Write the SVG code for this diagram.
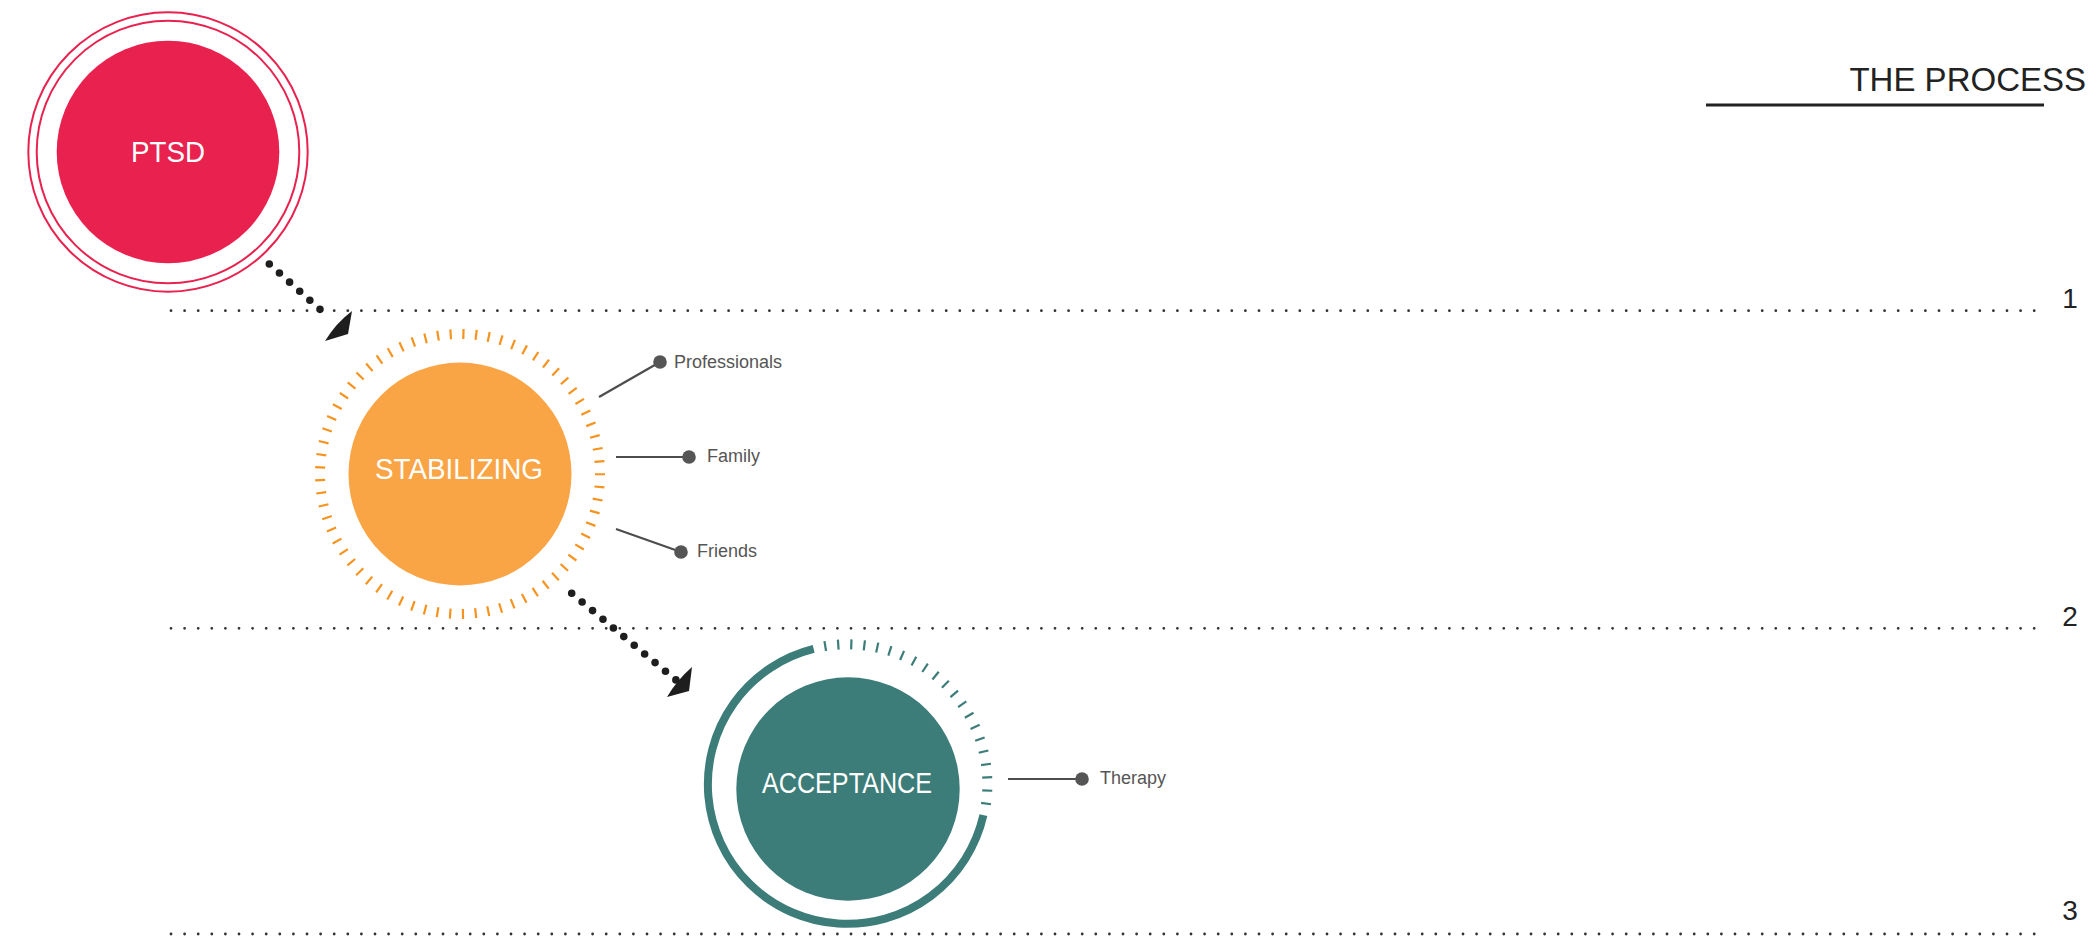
<svg xmlns="http://www.w3.org/2000/svg" xmlns:xlink="http://www.w3.org/1999/xlink" width="2100" height="951" viewBox="0 0 2100 951">
<defs>
<style>
.guide{fill:none;stroke:#333;stroke-width:2.8;stroke-linecap:round;stroke-dasharray:0 13.6}
.num{font-family:"Liberation Sans",Arial,sans-serif;font-size:28px;fill:#222;text-anchor:middle}
.main{font-family:"Liberation Sans",Arial,sans-serif;font-size:30px;fill:#fff;text-anchor:middle}
.lbl{font-family:"Liberation Sans",Arial,sans-serif;font-size:18px;fill:#555}
.branch{stroke:#4d4d4d;stroke-width:2.2;fill:none}
.bdot{fill:#555}
.flow{fill:none;stroke:#1e1e1e;stroke-width:7.6;stroke-linecap:round}
.head{fill:#1e1e1e}
.otk{stroke:#f6931e;stroke-width:2.2}
.gtk{stroke:#3c7c79;stroke-width:2.2}
</style>
<line id="otick" class="otk" x1="0" y1="-135" x2="0" y2="-145"/>
<line id="gtick" class="gtk" x1="0" y1="-135" x2="0" y2="-145"/>
</defs>
<rect width="2100" height="951" fill="#fff"/>

<g id="title">
<text x="2086" y="91" font-family="Liberation Sans, Arial, sans-serif" font-size="33" fill="#222" text-anchor="end">THE PROCESS</text>
<line x1="1706" y1="105" x2="2044" y2="105" stroke="#222" stroke-width="3"/>
</g>

<g id="stages">
<line class="guide" x1="171" y1="310.7" x2="2035" y2="310.7"/>
<line class="guide" x1="171" y1="628.3" x2="2035" y2="628.3"/>
<line class="guide" x1="171" y1="934" x2="2035" y2="934"/>
<text class="num" x="2070" y="308">1</text>
<text class="num" x="2070" y="626">2</text>
<text class="num" x="2070" y="920">3</text>
</g>

<g id="connectors">
<path class="flow" d="M269.3 264 L330 318.3" stroke-dasharray="0 13.6"/>
<path class="head" d="M352 311 Q336 323 325 341 L348 334 Z"/>
<path class="flow" d="M571.7 593.3 L676 680" stroke-dasharray="0 13.55"/>
<path class="head" d="M692 667 Q677 680 667 697 L689 691 Z"/>
<line class="branch" x1="599" y1="397" x2="660" y2="362"/>
<line class="branch" x1="616" y1="457" x2="689" y2="457"/>
<line class="branch" x1="616" y1="529" x2="681" y2="552"/>
<line class="branch" x1="1008" y1="779" x2="1082" y2="779"/>
<circle class="bdot" cx="660" cy="362" r="6.8"/>
<circle class="bdot" cx="689" cy="457" r="6.8"/>
<circle class="bdot" cx="681" cy="552" r="6.8"/>
<circle class="bdot" cx="1082" cy="779" r="6.8"/>
<text class="lbl" x="674" y="368">Professionals</text>
<text class="lbl" x="707" y="462">Family</text>
<text class="lbl" x="697" y="557">Friends</text>
<text class="lbl" x="1100" y="784">Therapy</text>
</g>

<g id="node-ptsd">
<circle cx="168" cy="152" r="139.7" fill="none" stroke="#e9214e" stroke-width="2"/>
<circle cx="168" cy="152" r="131.3" fill="none" stroke="#e9214e" stroke-width="2"/>
<circle cx="168" cy="152" r="111.3" fill="#e9214e"/>
<text class="main" x="168" y="162" textLength="74" lengthAdjust="spacingAndGlyphs">PTSD</text>
</g>

<g id="node-stabilizing">
<g transform="translate(460 474)">
<use xlink:href="#otick" transform="rotate(1.4)"/><use xlink:href="#otick" transform="rotate(6.62)"/><use xlink:href="#otick" transform="rotate(11.83)"/><use xlink:href="#otick" transform="rotate(17.05)"/><use xlink:href="#otick" transform="rotate(22.27)"/><use xlink:href="#otick" transform="rotate(27.49)"/><use xlink:href="#otick" transform="rotate(32.7)"/><use xlink:href="#otick" transform="rotate(37.92)"/><use xlink:href="#otick" transform="rotate(43.14)"/><use xlink:href="#otick" transform="rotate(48.36)"/>
<use xlink:href="#otick" transform="rotate(53.57)"/><use xlink:href="#otick" transform="rotate(58.79)"/><use xlink:href="#otick" transform="rotate(64.01)"/><use xlink:href="#otick" transform="rotate(69.23)"/><use xlink:href="#otick" transform="rotate(74.44)"/><use xlink:href="#otick" transform="rotate(79.66)"/><use xlink:href="#otick" transform="rotate(84.88)"/><use xlink:href="#otick" transform="rotate(90.1)"/><use xlink:href="#otick" transform="rotate(95.31)"/><use xlink:href="#otick" transform="rotate(100.53)"/>
<use xlink:href="#otick" transform="rotate(105.75)"/><use xlink:href="#otick" transform="rotate(110.97)"/><use xlink:href="#otick" transform="rotate(116.18)"/><use xlink:href="#otick" transform="rotate(121.4)"/><use xlink:href="#otick" transform="rotate(126.62)"/><use xlink:href="#otick" transform="rotate(131.84)"/><use xlink:href="#otick" transform="rotate(137.05)"/><use xlink:href="#otick" transform="rotate(142.27)"/><use xlink:href="#otick" transform="rotate(147.49)"/><use xlink:href="#otick" transform="rotate(152.7)"/>
<use xlink:href="#otick" transform="rotate(157.92)"/><use xlink:href="#otick" transform="rotate(163.14)"/><use xlink:href="#otick" transform="rotate(168.36)"/><use xlink:href="#otick" transform="rotate(173.57)"/><use xlink:href="#otick" transform="rotate(178.79)"/><use xlink:href="#otick" transform="rotate(184.01)"/><use xlink:href="#otick" transform="rotate(189.23)"/><use xlink:href="#otick" transform="rotate(194.44)"/><use xlink:href="#otick" transform="rotate(199.66)"/><use xlink:href="#otick" transform="rotate(204.88)"/>
<use xlink:href="#otick" transform="rotate(210.1)"/><use xlink:href="#otick" transform="rotate(215.31)"/><use xlink:href="#otick" transform="rotate(220.53)"/><use xlink:href="#otick" transform="rotate(225.75)"/><use xlink:href="#otick" transform="rotate(230.97)"/><use xlink:href="#otick" transform="rotate(236.18)"/><use xlink:href="#otick" transform="rotate(241.4)"/><use xlink:href="#otick" transform="rotate(246.62)"/><use xlink:href="#otick" transform="rotate(251.84)"/><use xlink:href="#otick" transform="rotate(257.05)"/>
<use xlink:href="#otick" transform="rotate(262.27)"/><use xlink:href="#otick" transform="rotate(267.49)"/><use xlink:href="#otick" transform="rotate(272.7)"/><use xlink:href="#otick" transform="rotate(277.92)"/><use xlink:href="#otick" transform="rotate(283.14)"/><use xlink:href="#otick" transform="rotate(288.36)"/><use xlink:href="#otick" transform="rotate(293.57)"/><use xlink:href="#otick" transform="rotate(298.79)"/><use xlink:href="#otick" transform="rotate(304.01)"/><use xlink:href="#otick" transform="rotate(309.23)"/>
<use xlink:href="#otick" transform="rotate(314.44)"/><use xlink:href="#otick" transform="rotate(319.66)"/><use xlink:href="#otick" transform="rotate(324.88)"/><use xlink:href="#otick" transform="rotate(330.1)"/><use xlink:href="#otick" transform="rotate(335.31)"/><use xlink:href="#otick" transform="rotate(340.53)"/><use xlink:href="#otick" transform="rotate(345.75)"/><use xlink:href="#otick" transform="rotate(350.97)"/><use xlink:href="#otick" transform="rotate(356.18)"/>
</g>
<circle cx="460" cy="474" r="111.5" fill="#f9a546"/>
<text class="main" x="459" y="479" textLength="168" lengthAdjust="spacingAndGlyphs">STABILIZING</text>
</g>

<g id="node-acceptance">
<path d="M983.4 815.2 A139.5 139.5 0 1 1 813.65 648.95" fill="none" stroke="#3c7c79" stroke-width="8"/>
<g transform="translate(847.4 784.3)">
<use xlink:href="#gtick" transform="rotate(-9.1)"/><use xlink:href="#gtick" transform="rotate(-3.75)"/><use xlink:href="#gtick" transform="rotate(1.6)"/><use xlink:href="#gtick" transform="rotate(6.95)"/><use xlink:href="#gtick" transform="rotate(12.3)"/><use xlink:href="#gtick" transform="rotate(17.65)"/><use xlink:href="#gtick" transform="rotate(23)"/><use xlink:href="#gtick" transform="rotate(28.35)"/><use xlink:href="#gtick" transform="rotate(33.7)"/><use xlink:href="#gtick" transform="rotate(39.05)"/><use xlink:href="#gtick" transform="rotate(44.4)"/>
<use xlink:href="#gtick" transform="rotate(49.75)"/><use xlink:href="#gtick" transform="rotate(55.1)"/><use xlink:href="#gtick" transform="rotate(60.45)"/><use xlink:href="#gtick" transform="rotate(65.8)"/><use xlink:href="#gtick" transform="rotate(71.15)"/><use xlink:href="#gtick" transform="rotate(76.5)"/><use xlink:href="#gtick" transform="rotate(81.85)"/><use xlink:href="#gtick" transform="rotate(87.2)"/><use xlink:href="#gtick" transform="rotate(92.55)"/><use xlink:href="#gtick" transform="rotate(97.9)"/>
</g>
<circle cx="848" cy="789" r="111.7" fill="#3c7c79"/>
<text class="main" x="847" y="793" textLength="170" lengthAdjust="spacingAndGlyphs">ACCEPTANCE</text>
</g>
</svg>
